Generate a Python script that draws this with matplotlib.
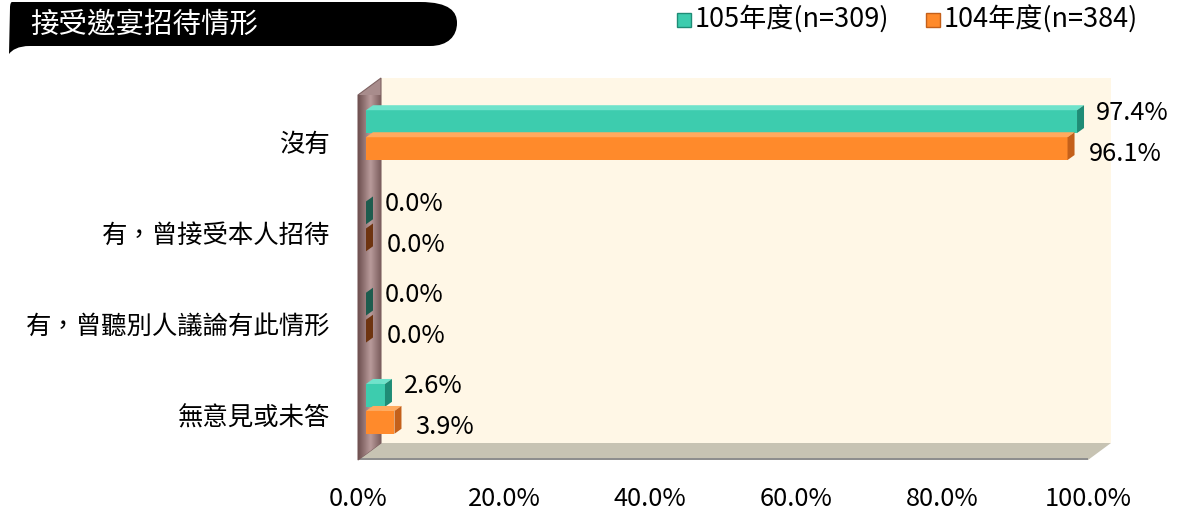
import matplotlib

matplotlib.use("Agg")
import matplotlib.pyplot as plt
import numpy as np
from matplotlib.patches import Polygon, Rectangle, PathPatch
from matplotlib.path import Path
from matplotlib.transforms import ScaledTranslation, IdentityTransform

plt.rcParams["font.family"] = ["Noto Sans CJK TC", "DejaVu Sans"]

# data
categories = ["沒有", "有，曾接受本人招待", "有，曾聽別人議論有此情形", "無意見或未答"]
vals_105 = [97.4, 0.0, 0.0, 2.6]
vals_104 = [96.1, 0.0, 0.0, 3.9]
series_names = ["105年度(n=309)", "104年度(n=384)"]
xticks = [0, 20, 40, 60, 80, 100]
title = "接受邀宴招待情形"

W, H, DPI = 1181, 513, 100
FS = 18.3
fig = plt.figure(figsize=(W / DPI, H / DPI), dpi=DPI)
ax = fig.add_axes([358 / W, (H - 460) / H, 730 / W, 365 / H])
ax.set_xlim(0, 100)
ax.set_ylim(len(categories) - 0.5, -0.5)
for s in ax.spines.values():
    s.set_visible(False)
ax.set_yticks([])
ax.set_xticks(xticks)
ax.set_xticklabels([f"{t:.1f}%" for t in xticks], fontsize=FS)
ax.tick_params(axis="x", length=0, pad=19)
ax.patch.set_visible(False)

# depth of the 3-D box (pixels)
DX, DY = 23, 17
ID = IdentityTransform()


def axpix(x, y):
    return ax.transAxes.transform((x, y))


def poly(pts, **kw):
    p = Polygon(pts, closed=True, transform=ID, clip_on=False, **kw)
    ax.add_patch(p)
    return p


p00, p10, p01, p11 = axpix(0, 0), axpix(1, 0), axpix(0, 1), axpix(1, 1)
d = np.array([DX, DY])
# back wall
poly([p00 + d, p10 + d, p11 + d, p01 + d], facecolor="#FFF7E6", edgecolor="none", zorder=0)
# floor
poly([p00, p10, p10 + d, p00 + d], facecolor="#C7C3B3", edgecolor="none", zorder=1)
poly([p00, p10, p10 + [0, 2], p00 + [0, 2]], facecolor="#8E8E8E", edgecolor="none", zorder=1)
# left wall with a soft gradient
wall = poly([p00, p00 + d, p01 + d, p01], facecolor="#A88C8C", edgecolor="#7E6262", lw=0.8, zorder=1)
grad = np.linspace(0, 1, 64).reshape(1, -1)
im = ax.imshow(np.abs(grad - 0.55), cmap=matplotlib.colors.LinearSegmentedColormap.from_list(
    "w", ["#B89A9A", "#6E5050"]), aspect="auto", transform=ID,
    extent=(p00[0], p00[0] + DX, p00[1], p01[1] + DY), zorder=1.5)
im.set_clip_path(wall)
ax.set_xlim(0, 100)
ax.set_ylim(len(categories) - 0.5, -0.5)

# bars drawn slightly inside the box
btr = ax.transData + ScaledTranslation(0.08, 0.055, fig.dpi_scale_trans)
BH, OFF = 0.25, 0.148
bd = np.array([7, 5])
styles = [
    dict(front="#3DCCAE", top="#6FE3CB", side="#1F8C76", zero="#1E5C4E"),
    dict(front="#FF8A2B", top="#FFAA5E", side="#C4601A", zero="#6E3410"),
]


def bar3d(v, yc, st):
    y0, y1 = yc + BH / 2, yc - BH / 2  # y0 bottom on screen
    a = btr.transform((0, y0))
    b = btr.transform((v, y0))
    c = btr.transform((v, y1))
    e = btr.transform((0, y1))
    if v > 0:
        poly([a, b, c, e], facecolor=st["front"], edgecolor="none", zorder=3)
        poly([e, c, c + bd, e + bd], facecolor=st["top"], edgecolor="none", zorder=3)
        side = st["side"]
    else:
        side = st["zero"]
    poly([b, c, c + bd, b + bd], facecolor=side, edgecolor="none", zorder=3)


for i in range(len(categories)):
    for k, (vals, st) in enumerate(zip([vals_105, vals_104], styles)):
        yc = i - OFF if k == 0 else i + OFF
        bar3d(vals[i], yc, st)
        dy = 9 if k == 0 else -5
        ax.annotate(f"{vals[i]:.1f}%", xy=(vals[i], yc), xycoords=btr,
                    xytext=(19 if k == 0 else 21, dy), textcoords="offset pixels",
                    ha="left", va="center", fontsize=FS, zorder=5)

# category labels
for i, c in enumerate(categories):
    ax.annotate(c, xy=(0, i), xycoords="data", xytext=(-28, -4), textcoords="offset pixels",
                ha="right", va="center", fontsize=FS)


# title banner
def fy(y):
    return H - y


verts = [(12, fy(2)), (420, fy(2)), (450, fy(2)), (457, fy(12)), (457, fy(23)),
         (457, fy(36)), (448, fy(46)), (430, fy(46)), (30, fy(46)),
         (18, fy(46)), (12, fy(50)), (9, fy(54)), (10, fy(8)),
         (10, fy(4)), (11, fy(2)), (12, fy(2))]
codes = [Path.MOVETO, Path.LINETO, Path.CURVE4, Path.CURVE4, Path.CURVE4,
         Path.CURVE4, Path.CURVE4, Path.CURVE4, Path.LINETO,
         Path.CURVE4, Path.CURVE4, Path.CURVE4, Path.LINETO,
         Path.CURVE4, Path.CURVE4, Path.CURVE4]
fig.patches.append(PathPatch(Path(verts, codes), transform=ID, facecolor="black",
                             edgecolor="none", figure=fig))
fig.text(30 / W, fy(25) / H, title, color="white", fontsize=20.5,
         ha="left", va="center")

# legend
leg_x = [677, 926]
for lx, name, st in zip(leg_x, series_names, styles):
    fig.patches.append(Rectangle((lx, fy(27)), 14, 14, transform=ID, facecolor=st["front"],
                                 edgecolor=st["side"], lw=1, figure=fig))
    fig.text((lx + 18) / W, fy(20) / H, name, fontsize=19.5, ha="left", va="center")

fig.savefig("out.png", dpi=DPI, facecolor="white")
